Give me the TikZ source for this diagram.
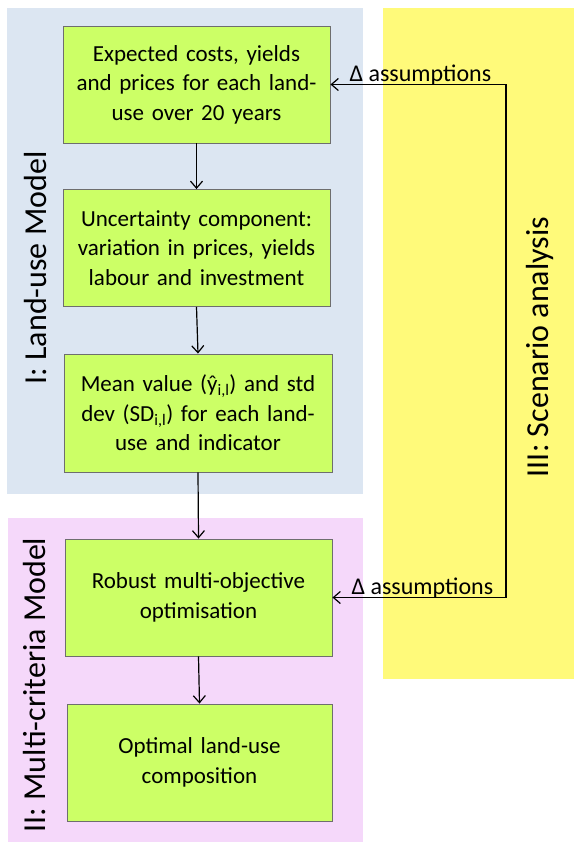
\documentclass[tikz,border=0pt]{standalone}
\usepackage{fontspec}
\setmainfont{Carlito}
\usetikzlibrary{arrows.meta}
\definecolor{panelblue}{RGB}{220,230,242}
\definecolor{panelpink}{RGB}{245,216,250}
\definecolor{panelyellow}{RGB}{255,250,122}
\definecolor{boxgreen}{RGB}{204,255,102}
\definecolor{boxedge}{RGB}{110,110,110}
\tikzset{
  x=1pt, y=-1pt,
  stagebox/.style={draw=boxedge, line width=0.9pt, fill=boxgreen, minimum width=267pt, minimum height=117pt, align=center, text width=260pt, inner sep=0pt, font=\fontsize{23}{29.5}\selectfont},
  flow/.style={line width=1.2pt, -{Straight Barb[length=7pt,width=12pt,line width=1.2pt]}},
  sideflow/.style={line width=1.2pt, {Straight Barb[length=7pt,width=12pt,line width=1.2pt]}-{Straight Barb[length=7pt,width=12pt,line width=1.2pt]}},
  sidelabel/.style={rotate=90, font=\fontsize{32}{36}\selectfont, inner sep=0pt},
  deltalabel/.style={font=\fontsize{24}{26}\selectfont, inner sep=0pt, anchor=base west}
}
\begin{document}
\begin{tikzpicture}
\useasboundingbox (0,0) rectangle (574,842);
\fill[white] (0,0) rectangle (574,842);
% panels
\fill[panelblue] (7,8) rectangle (363,494);
\fill[panelpink] (8,518) rectangle (363,842);
\fill[panelyellow] (383,8) rectangle (574,679);
% side labels
\node[sidelabel] (lblI) at (36,268) {I: Land-use Model};
\node[sidelabel] (lblII) at (35,685) {II: Multi-criteria Model};
\node[sidelabel] (lblIII) at (540,347) {III: Scenario analysis};
% boxes
\node[stagebox] (b1) at (196.5,84.5) {Expected costs, yields\\and prices for each land-\\use over 20 years};
\node[stagebox] (b2) at (196.5,248) {Uncertainty component:\\variation in prices, yields\\labour and investment};
\node[stagebox, minimum width=268pt, minimum height=118pt] (b3) at (198,413) {Mean value (ŷ\textsubscript{i,l}) and std\\dev (SD\textsubscript{i,l}) for each land-\\use and indicator};
\node[stagebox] (b4) at (198.5,597.5) {Robust multi-objective\\optimisation};
\node[stagebox, minimum width=265pt] (b5) at (199.5,762.5) {Optimal land-use\\composition};
% flow arrows
\draw[flow] (b1.south) -- (b2.north);
\draw[flow] (b2.south) -- (b3.north);
\draw[flow] (b3.south) -- (b4.north);
\draw[flow] (b4.south) -- (b5.north);
% scenario feedback
\coordinate (c1) at (506,84.5);
\coordinate (c2) at (506,597.5);
\draw[sideflow] (b1.east) -- (c1) -- (c2) -- (b4.east);
\node[deltalabel] (d1) at ([xshift=19pt,yshift=3pt]b1.east) {Δ assumptions};
\node[deltalabel] (d2) at ([xshift=19pt,yshift=3pt]b4.east) {Δ assumptions};
\end{tikzpicture}
\end{document}
